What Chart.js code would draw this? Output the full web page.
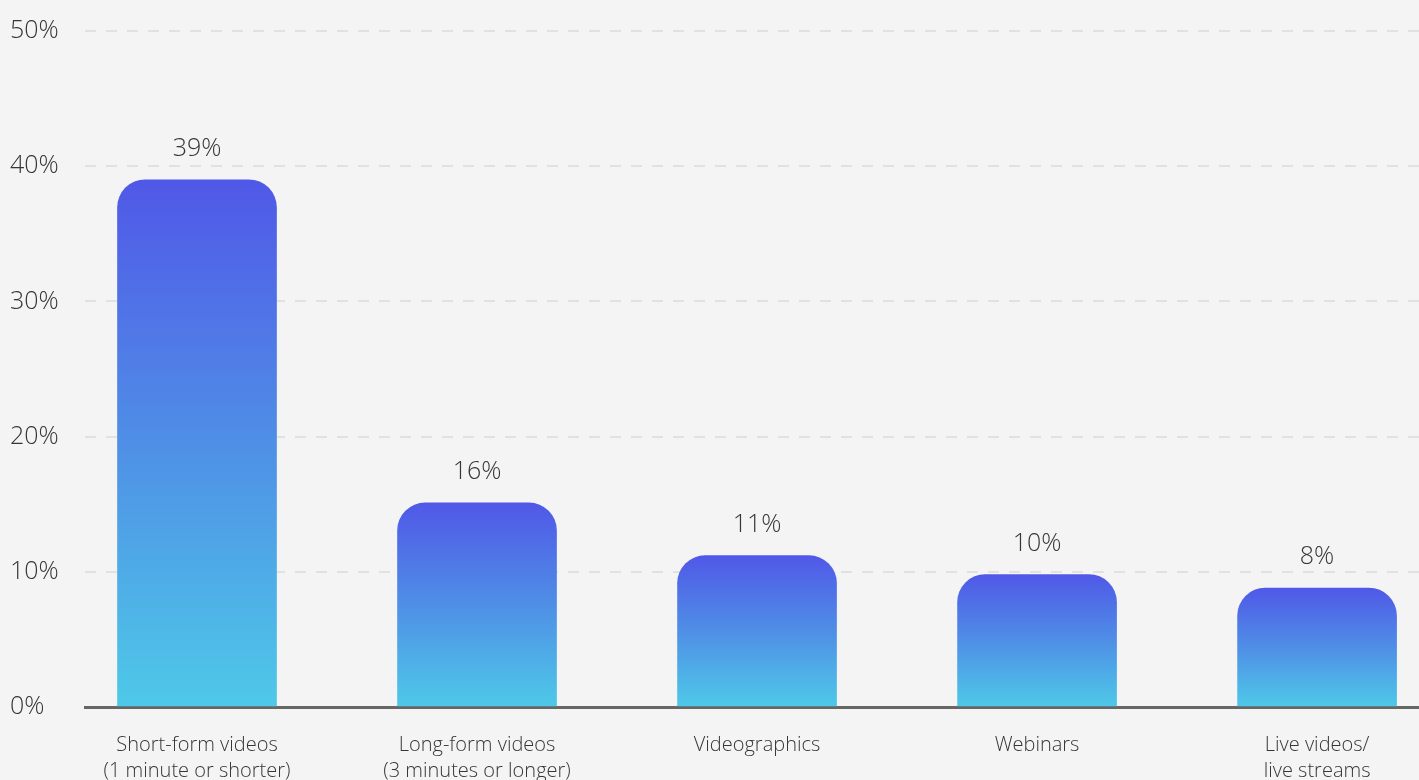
<!DOCTYPE html>
<html>
<head>
  <title>Content formats</title>
  <script src="https://cdn.jsdelivr.net/npm/chart.js"></script>
  <style>
    body {
      margin: 0;
      background-color: #f4f4f4;
      overflow: hidden;
    }

    .chart-box {
      width: 1419px;
      height: 780px;
    }
  </style>
</head>
<body>
  <div class="chart-box">
    <canvas id="formatChart"></canvas>
  </div>

  <script>
    const categories = [
      ['Short-form videos', '(1 minute or shorter)'],
      ['Long-form videos', '(3 minutes or longer)'],
      'Videographics',
      'Webinars',
      ['Live videos/', 'live streams']
    ];
    const shares = [39.0, 15.1, 11.2, 9.8, 8.8];
    const shareLabels = ['39%', '16%', '11%', '10%', '8%'];
    const yTicks = [0, 10, 20, 30, 40, 50];

    const fontFamily = '"Open Sans", Lato, sans-serif';
    const textColor = '#363636';

    function barGradient(context) {
      const chart = context.chart;
      const yScale = chart.scales.y;
      if (!chart.chartArea || !yScale) return '#5058e6';
      const top = yScale.getPixelForValue(shares[context.dataIndex]);
      const bottom = yScale.getPixelForValue(0);
      const g = chart.ctx.createLinearGradient(0, top, 0, bottom);
      g.addColorStop(0, '#5058e7');
      g.addColorStop(0.5, '#4f8fe6');
      g.addColorStop(1, '#4ec9e8');
      return g;
    }

    // values above the bars
    const topLabels = {
      id: 'topLabels',
      afterDatasetsDraw(chart) {
        const ctx = chart.ctx;
        const meta = chart.getDatasetMeta(0);
        ctx.save();
        ctx.font = '300 25px ' + fontFamily;
        ctx.fillStyle = textColor;
        ctx.textAlign = 'center';
        ctx.textBaseline = 'middle';
        meta.data.forEach((bar, i) => {
          ctx.fillText(shareLabels[i], bar.x, bar.y - 31);
        });
        ctx.restore();
      }
    };

    const ctx = document.getElementById('formatChart').getContext('2d');

    new Chart(ctx, {
      type: 'bar',
      data: {
        datasets: [{
          data: shares.map((v, i) => ({ x: i, y: v })),
          backgroundColor: barGradient,
          borderRadius: { topLeft: 28, topRight: 28 },
          borderSkipped: 'start',
          barThickness: 159
        }]
      },
      plugins: [topLabels],
      options: {
        responsive: true,
        maintainAspectRatio: false,
        animation: false,
        layout: { padding: { top: 31, left: 10, right: 0, bottom: 0 } },
        plugins: {
          legend: { display: false },
          tooltip: { enabled: false }
        },
        scales: {
          x: {
            type: 'linear',
            offset: false,
            min: -0.4,
            max: 4.364,
            grid: { display: false, drawTicks: false, offset: false },
            border: { display: true, color: '#666666', width: 3 },
            afterFit: s => { s.height = 73; },
            ticks: {
              stepSize: 1,
              includeBounds: false,
              autoSkip: false,
              maxRotation: 0,
              padding: 25,
              color: textColor,
              font: { family: fontFamily, size: 20, weight: '300', lineHeight: 1.3 },
              callback: v => categories[v] ?? ''
            }
          },
          y: {
            min: 0,
            max: 50,
            afterFit: s => { s.width = 75; },
            afterBuildTicks: s => { s.ticks = yTicks.map(v => ({ value: v })); },
            border: { display: false, dash: [11, 10] },
            grid: {
              drawTicks: false,
              lineWidth: 2,
              color: c => c.tick.value === 0 ? 'rgba(0,0,0,0)' : '#dfe2e1'
            },
            ticks: {
              crossAlign: 'far',
              padding: 0,
              color: textColor,
              font: { family: fontFamily, size: 25, weight: '300' },
              callback: v => v + '%'
            }
          }
        }
      }
    });
  </script>
</body>
</html>
